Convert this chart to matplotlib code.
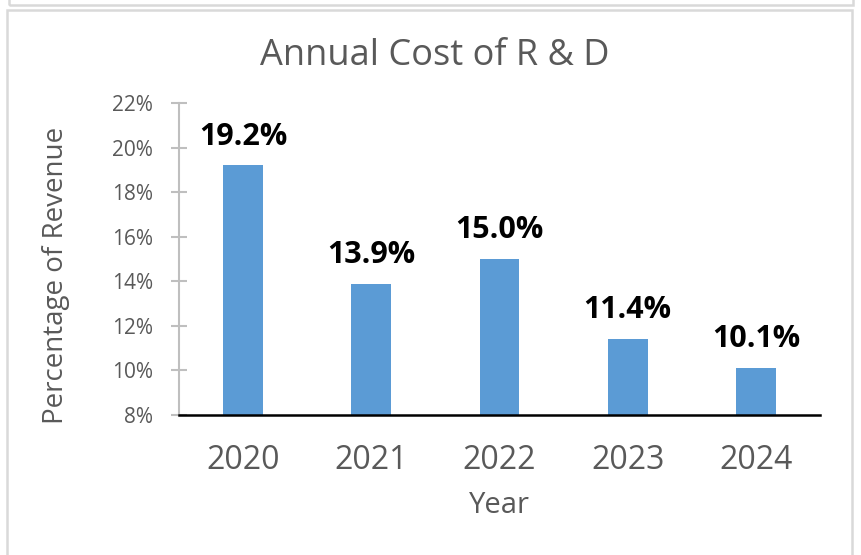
import matplotlib
matplotlib.use("Agg")
import matplotlib.pyplot as plt
from matplotlib.patches import Rectangle

years = ["2020", "2021", "2022", "2023", "2024"]
rd_share = [19.2, 13.9, 15.0, 11.4, 10.1]
y_ticks = [8, 10, 12, 14, 16, 18, 20, 22]

W, H = 861, 555
plt.rcParams['font.family'] = ['Open Sans', 'DejaVu Sans']
gray_text = '#595959'
bar_color = '#5B9BD5'

fig = plt.figure(figsize=(W / 100, H / 100), dpi=100)

# chart frames (a neighbouring box peeks in at the top)
border = '#D9D9D9'
fig.patches.append(Rectangle((9 / W, 1 - 5 / H), 844 / W, 0.1, transform=fig.transFigure,
                             fill=False, edgecolor=border, linewidth=1.8))
fig.patches.append(Rectangle((7 / W, -0.1), 845 / W, 1.1 - 10 / H, transform=fig.transFigure,
                             fill=False, edgecolor=border, linewidth=1.8))

ax = fig.add_axes([179 / W, 1 - 415 / H, 641 / W, 312 / H])
x = range(len(years))
bars = ax.bar(x, rd_share, width=0.31, color=bar_color, zorder=2)

ax.set_ylim(8, 22)
ax.set_xlim(-0.5, len(years) - 0.5)
ax.set_yticks(y_ticks)
ax.set_yticklabels([f"{t}%" for t in y_ticks])
ax.set_xticks(list(x))
ax.set_xticklabels(years)

for s in ['top', 'right']:
    ax.spines[s].set_visible(False)
ax.spines['left'].set_color('#BFBFBF')
ax.spines['left'].set_linewidth(1.5)
ax.spines['bottom'].set_color('black')
ax.spines['bottom'].set_linewidth(1.8)
ax.spines['bottom'].set_zorder(3)

ax.tick_params(axis='y', direction='inout', length=12, width=1.5, color='#BFBFBF',
               labelsize=15, labelcolor=gray_text, pad=12.6)
ax.tick_params(axis='x', length=0, labelsize=23, labelcolor=gray_text, pad=21)

for b, v in zip(bars, rd_share):
    ax.annotate(f"{v:.1f}%", (b.get_x() + b.get_width() / 2, v), xytext=(0, 15),
                textcoords='offset points', ha='center', va='baseline',
                fontsize=22, fontweight='bold', color='black')

fig.text(435 / W, 1 - 65 / H, "Annual Cost of R & D", ha='center', va='baseline',
         fontsize=26, color=gray_text)
fig.text(499 / W, 1 - 513 / H, "Year", ha='center', va='baseline',
         fontsize=21, color=gray_text)
fig.text(56 / W, 1 - 275 / H, "Percentage of Revenue", ha='center', va='center',
         rotation=90, fontsize=20, color=gray_text)

fig.savefig("out.png", dpi=100)
